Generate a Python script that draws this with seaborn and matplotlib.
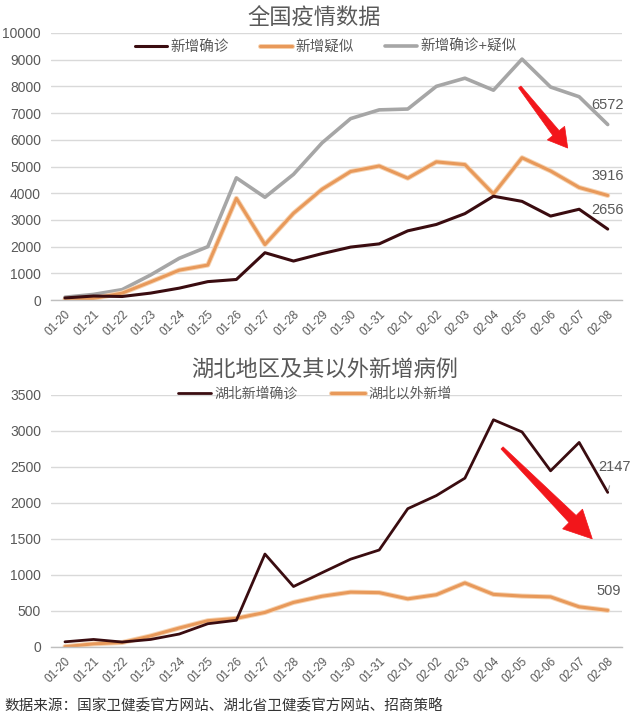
import numpy as np
import pandas as pd
import seaborn as sns
import matplotlib
matplotlib.use("Agg")
import matplotlib.pyplot as plt
import matplotlib.patheffects as pe
from matplotlib.patches import Polygon

dates = ["01-20", "01-21", "01-22", "01-23", "01-24", "01-25", "01-26", "01-27", "01-28", "01-29",
         "01-30", "01-31", "02-01", "02-02", "02-03", "02-04", "02-05", "02-06", "02-07", "02-08"]
new_confirmed = [77, 149, 131, 259, 444, 688, 769, 1771, 1459, 1737,
                 1982, 2102, 2590, 2829, 3235, 3887, 3694, 3143, 3399, 2656]
new_suspected = [27, 60, 257, 680, 1118, 1309, 3806, 2077, 3248, 4148,
                 4812, 5019, 4562, 5173, 5072, 3971, 5328, 4833, 4214, 3916]
new_total = [104, 209, 388, 939, 1562, 1997, 4575, 3848, 4707, 5885,
             6794, 7121, 7152, 8002, 8307, 7858, 9022, 7976, 7613, 6572]
hubei_new = [72, 105, 69, 105, 180, 323, 371, 1291, 840, 1032,
             1220, 1347, 1921, 2103, 2345, 3156, 2987, 2447, 2841, 2147]
outside_new = [5, 44, 62, 154, 264, 365, 398, 480, 619, 705,
               762, 755, 669, 726, 890, 731, 707, 696, 558, 509]

top_title = "全国疫情数据"
bottom_title = "湖北地区及其以外新增病例"
top_labels = ["新增确诊", "新增疑似", "新增确诊+疑似"]
bottom_labels = ["湖北新增确诊", "湖北以外新增"]
source = "数据来源：国家卫健委官方网站、湖北省卫健委官方网站、招商策略"

sns.set_style("white")
plt.rcParams["font.family"] = ["Liberation Sans", "Noto Sans CJK SC", "DejaVu Sans"]

DARK = "#3a0c10"
ORANGE = "#e8995a"
ORANGE_EDGE = "#f6d2b0"
GRAY = "#a6a6a6"
TXT = "#595959"
GRID = "#d9d9d9"

fig = plt.figure(figsize=(6.4, 7.21), dpi=100)
W, H = 640, 721

def ax_rect(x0, x1, ytop, ybot):
    return [x0 / W, 1 - ybot / H, (x1 - x0) / W, (ybot - ytop) / H]

ax1 = fig.add_axes(ax_rect(50.7, 622, 33, 300))
ax2 = fig.add_axes(ax_rect(50.7, 622, 395, 647))

df_top = pd.DataFrame({"date": dates, top_labels[0]: new_confirmed,
                       top_labels[1]: new_suspected, top_labels[2]: new_total})
df_bot = pd.DataFrame({"date": dates, bottom_labels[0]: hubei_new, bottom_labels[1]: outside_new})

orange_fx = [pe.Stroke(linewidth=3.6, foreground=ORANGE_EDGE), pe.Normal()]

sns.lineplot(data=df_top, x="date", y=top_labels[2], ax=ax1, color=GRAY, lw=2.6, sort=False, label=top_labels[2])
sns.lineplot(data=df_top, x="date", y=top_labels[1], ax=ax1, color=ORANGE, lw=2.2, sort=False, label=top_labels[1],
             path_effects=orange_fx)
sns.lineplot(data=df_top, x="date", y=top_labels[0], ax=ax1, color=DARK, lw=2.2, sort=False, label=top_labels[0])

sns.lineplot(data=df_bot, x="date", y=bottom_labels[1], ax=ax2, color=ORANGE, lw=2.2, sort=False, label=bottom_labels[1],
             path_effects=orange_fx)
sns.lineplot(data=df_bot, x="date", y=bottom_labels[0], ax=ax2, color=DARK, lw=2.0, sort=False, label=bottom_labels[0])

for ax, ymax, step in [(ax1, 10000, 1000), (ax2, 3500, 500)]:
    ax.set_xlim(-0.5, len(dates) - 0.5)
    ax.set_ylim(0, ymax)
    ax.set_yticks(np.arange(0, ymax + 1, step))
    ax.set_xlabel("")
    ax.set_ylabel("")
    for s in ["top", "right", "left"]:
        ax.spines[s].set_visible(False)
    ax.spines["bottom"].set_color("#bfbfbf")
    ax.spines["bottom"].set_linewidth(1.0)
    ax.grid(axis="y", color=GRID, lw=1.0)
    ax.set_axisbelow(True)
    ax.set_xticks(range(len(dates)))
    ax.set_xticklabels(dates, rotation=45, ha="right", rotation_mode="anchor", fontsize=8.5, color=TXT)
    ax.tick_params(axis="x", length=0, pad=6)
    ax.set_xticks(np.arange(-0.5, len(dates), 1), minor=True)
    ax.tick_params(axis="x", which="minor", length=4, color="#bfbfbf", direction="out")
    ax.tick_params(axis="y", length=0, labelsize=10, labelcolor=TXT, pad=7)

# legends (placed in figure pixels, left edge anchored)
h, l = ax1.get_legend_handles_labels()
order = [l.index(t) for t in top_labels]
ax1.legend([h[i] for i in order], [l[i] for i in order], loc="center left",
           bbox_to_anchor=(135 / W, 1 - 47 / H), bbox_transform=fig.transFigure,
           ncol=3, frameon=False, fontsize=10.5, handlelength=2.2, columnspacing=2.1, handletextpad=0.25,
           borderpad=0, borderaxespad=0, labelcolor=TXT)
h, l = ax2.get_legend_handles_labels()
order = [l.index(t) for t in bottom_labels]
ax2.legend([h[i] for i in order], [l[i] for i in order], loc="center left",
           bbox_to_anchor=(178 / W, 1 - 394 / H), bbox_transform=fig.transFigure,
           ncol=2, frameon=False, fontsize=10, handlelength=2.4, columnspacing=2.4, handletextpad=0.25,
           borderpad=0, borderaxespad=0, labelcolor=TXT)

fig.text(314 / W, 1 - 18 / H, top_title, ha="center", va="center", fontsize=16, color=TXT)
fig.text(325 / W, 1 - 370 / H, bottom_title, ha="center", va="center", fontsize=16, color=TXT)
fig.text(4 / W, 1 - 706 / H, source, ha="left", va="center", fontsize=10.5, color="#333333")

# end labels
last = len(dates) - 1
for v in [new_total[-1], new_suspected[-1], new_confirmed[-1]]:
    ax1.annotate(str(v), xy=(last, v), xytext=(0, 14), textcoords="offset points",
                 ha="center", va="center", fontsize=10.5, color=TXT)
ax2.annotate(str(hubei_new[-1]), xy=(last, hubei_new[-1]), xytext=(5, 18), textcoords="offset points",
             ha="center", va="center", fontsize=10.5, color=TXT,
             arrowprops=dict(arrowstyle="-", color="#a0a0a0", lw=0.8, shrinkA=6, shrinkB=2))
ax2.annotate(str(outside_new[-1]), xy=(last, outside_new[-1]), xytext=(1, 14), textcoords="offset points",
             ha="center", va="center", fontsize=10.5, color=TXT)

# red arrows
def red_arrow(ax, start, end, headlen, headw, shaftw, tailw):
    fig.canvas.draw()
    s = ax.transAxes.transform(start)
    e = ax.transAxes.transform(end)
    d = (e - s) / np.linalg.norm(e - s)
    n = np.array([-d[1], d[0]])
    h0 = e - d * headlen
    pts = [s + n * tailw, h0 + n * shaftw, h0 + n * headw, e, h0 - n * headw, h0 - n * shaftw, s - n * tailw]
    pts = fig.transFigure.inverted().transform(np.array(pts))
    fig.patches.append(Polygon(pts, closed=True, transform=fig.transFigure, facecolor="#f2161b",
                               edgecolor="#f2161b", lw=0.5, zorder=10))

red_arrow(ax1, (0.821, 0.798), (0.905, 0.569), 19, 11, 4.0, 1.5)
red_arrow(ax2, (0.790, 0.790), (0.948, 0.429), 28, 14, 5.0, 1.5)

fig.savefig("out.png", dpi=100, facecolor="white")
